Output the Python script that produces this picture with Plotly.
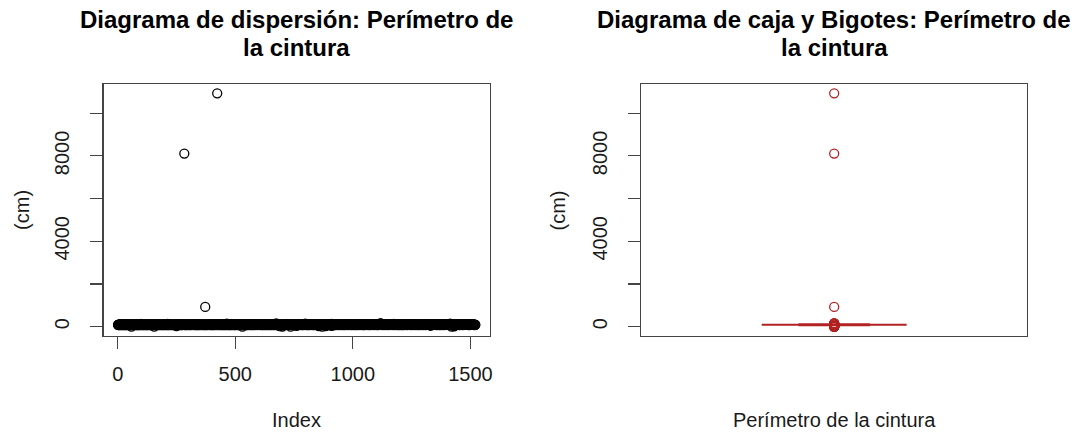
import plotly.graph_objects as go

# Perímetro de la cintura (cm), one value per observation (Index 1..n), read/estimated from the band
cintura_txt = """
88 92 79 101 85 97 74 90 83 110  95 86 78 104 91 82 99 87 76 93  84 107 89 72 96 81 100 93 86 78  91 85 113 80 94 88 77 102 90 84
97 83 89 76 105 92 81 87 99 74  90 86 95 82 108 79 93 1 88 101  85 77 94 90 83 98 72 87 106 91  80 96 84 89 75 103 92 86 79 94
87 99 82 91 78 104 88 95 73 90  84 97 86 80 102 93 77 89 128 85  92 81 96 87 75 100 90 83 98 79  88 94 85 106 91 76 89 97 82 93
86 79 101 92 84 95 78 90 88 103  81 94 87 76 99 91 85 108 80 93  89 74 97 86 92 83 105 79 90 95  84 88 77 102 0.9 91 85 98 82 89
94 87 80 99 91 76 104 88 83 96  90 79 93 85 107 82 89 97 74 92  86 101 81 95 88 78 91 84 100 87  93 80 96 89 75 103 85 92 82 98
88 83 95 79 102 90 86 74 97 91  84 135 87 80 94 89 77 100 92 85  96 81 90 88 105 78 93 86 99 82  91 76 95 87 84 101 89 80 93 97
85 92 78 99 88 94 81 103 90 30  87 96 83 75 100 91 86 79 106 89  93 82 97 88 77 102 84 90 95 80  89 98 85 92 76 104 87 81 94 90
91 84 8110 96 80 93 87 102 78 89  95 83 99 86 74 92 88 107 81 94  90 85 97 79 101 88 93 82 96 87  76 104 89 92 84 98 81 90 95 86
83 97 90 78 105 88 94 81 99 86  92 75 100 89 84 96 80 103 91 87  79 94 88 102 85 93 77 98 90 83  108 86 92 81 95 89 74 101 87 96
88 82 99 91 77 104 86 93 80 97  90 925 84 95 79 101 89 86 92 76  98 87 83 106 90 94 81 100 88 85  93 78 96 89 102 84 91 87 75 99
86 94 80 103 89 92 78 97 85 100  91 83 96 88 74 105 90 87 99 81  93 86 10930 95 79 102 88 84 97 90  82 107 91 76 94 89 85 101 93 80
97 88 83 99 90 76 104 87 92 81  95 89 78 102 86 93 84 100 91 79  88 96 85 142 82 94 90 77 98 87  92 83 101 89 75 96 88 93 80 103
90 85 97 79 106 88 94 82 99 91  86 78 103 92 84 95 80 89 98 87  93 76 101 90 85 97 83 104 88 92  79 96 87 100 82 94 89 77 105 91
84 98 90 81 95 88 103 79 92 1.1  87 94 83 100 76 91 97 86 89 108  82 93 88 78 101 90 85 96 80 99  92 87 74 104 89 95 83 91 98 86
93 80 99 88 85 102 91 77 96 87  90 83 105 94 79 98 86 92 81 100  88 95 84 76 103 90 87 97 82 93  89 101 78 94 86 91 99 84 107 88
81 96 90 87 100 83 93 78 98 92  85 104 88 95 80 91 86 99 76 94  89 82 102 90 97 84 93 87 79 106  91 86 95 81 98 88 74 101 92 85
97 89 83 100 92 78 95 86 103 90  84 98 91 77 94 88 105 82 96 87  93 80 99 89 85 102 91 76 97 88  83 94 90 150 86 92 79 100 87 95
88 92 81 97 86 103 90 25 94 84  99 87 78 101 93 85 96 89 104 8  91 83 98 87 76 100 92 86 95 80  90 106 84 93 88 79 97 91 102 85
94 86 99 82 91 88 104 79 96 90  85 101 87 93 1.5 98 84 92 89 107  81 95 88 100 86 77 97 90 83 103  92 87 96 80 94 89 75 99 91 35
89 97 84 102 90 78 95 87 100 83  93 88 106 81 96 91 85 98 76 94  90 86 103 89 92 80 97 84 101 88  95 79 93 87 99 85 138 91 82 96
87 94 80 99 91 86 103 78 96 89  84 101 92 88 75 97 90 83 105 93  86 99 81 94 89 102 85 92 77 98  90 87 104 83 95 91 79 100 88 93
92 85 98 89 101 82 95 88 76 103  90 94 84 99 28 87 106 91 80 96  88 93 83 100 86 97 79 92 104 1  89 95 85 102 91 78 98 87 94 90
86 99 91 83 32 95 88 104 80 97  92 85 101 89 77 96 90 87 103 94  82 98 91 86 100 79 93 88 131 40  95 84 97 90 81 102 89 93 76 99
91 87 100 84 96 89 78 105 92 86  98 81 94 90 103 85 97 88 75 101  93 86 99 82 95 91 87 104 80 97  89 94 83 100 88 92 79 106 90 85
96 88 83 102 91 77 99 87 94 90  85 108 92 81 97 89 86 101 93 78  95 90 84 103 88 96 82 99 91 87  80 104 93 86 98 89 76 100 92 84
89 97 85 101 92 80 96 88 104 83  94 90 78 99 87 93 86 102 91 82  98 89 75 105 92 87 96 84 100 90  93 81 97 88 103 86 91 79 95 89
84 99 92 87 102 80 95 90 77 104  88 93 85 98 91 83 106 89 96 81  94 87 100 92 79 97 86 103 90 85  99 82 95 89 76 101 93 88 97 84
92 86 103 81 97 90 88 100 84 95  79 93 89 105 86 98 91 83 96 87  102 80 94 90 85 99 92 77 104 88  91 96 83 100 87 94 89 160 82 97
87 93 80 99 90 86 104 83 96 91  88 101 78 94 92 85 97 89 103 81  95 90 84 100 87 93 76 98 91 86  105 83 96 89 92 80 99 88 94 85
98 84 91 102 87 95 80 93 89 100  86 97 83 125 90 92 78 99 88 94  85 101 91 87 96 82 103 89 93 79  97 90 86 104 84 95 88 91 77 100
90 95 82 98 88 103 86 92 79 97  91 84 100 89 94 76 105 87 93 85  99 81 96 90 102 88 84 97 91 78  94 89 101 85 92 98 83 107 90 87
93 86 99 84 96 90 78 102 88 95  82 97 91 87 104 80 94 89 100 85  92 98 83 106 90 87 95 79 101 88  84 97 92 86 103 81 96 89 75 99
88 101 85 94 91 80 97 87 103 90  84 96 89 99 82 93 77 105 91 86  98 88 95 83 100 92 86 104 79 97  90 85 102 93 81 96 88 99 87 94
95 82 98 89 92 86 101 84 97 45  91 88 103 80 95 90 86 99 76 94  87 100 92 83 97 89 106 85 93 81  98 90 87 102 84 96 91 79 100 88
86 97 91 104 83 95 88 80 99 92  85 101 89 94 78 98 90 87 103 82  96 91 84 100 88 93 77 97 89 105  92 86 99 81 95 90 87 102 84 94
91 85 98 88 102 83 96 90 79 100  87 94 89 146 82 97 91 86 99 1.2  93 88 84 103 90 96 80 98 87 92  20 89 101 85 95 91 77 99 88 94
97 84 92 100 88 95 81 103 90 86  98 89 93 78 101 87 96 91 84 105  90 86 99 82 94 88 102 79 97 91  85 100 93 87 96 83 89 104 91 88
94 86 101 90 83 97 88 105 92 80  99 87 93 85 102 91 78 96 89 100  84 95 90 87 103 82 98 91 86 94  89 101 85 97 92 88 76 99 90 93
87
"""
cintura = [float(v) for v in cintura_txt.split()]
indice = list(range(1, len(cintura) + 1))

x_ticks = [0, 500, 1000, 1500]
y_ticks = [0, 2000, 4000, 6000, 8000, 10000]
y_ticktext = ["0", "", "4000", "", "8000", ""]

titulo_izq = ["Diagrama de dispersión: Perímetro de", "la cintura"]
titulo_der = ["Diagrama de caja y Bigotes: Perímetro de", "la cintura"]
etiqueta_y = "(cm)"
etiqueta_x_izq = "Index"
etiqueta_x_der = "Perímetro de la cintura"

W, H = 1081, 434
FONT = "Liberation Sans, Arial, Helvetica, sans-serif"
AXC = "#444444"
BOXC = "#B22222"
TXT = "#1a1a1a"

n = len(indice)
xr = [1 - 0.04 * (n - 1), n + 0.04 * (n - 1)]
ymin, ymax = min(cintura), max(cintura)
span = ymax - ymin
yr = [ymin - 0.04 * span, ymax + 0.04 * span]

def px(x):
    return x / W

def py(y):
    return 1 - y / H

fig = go.Figure()
fig.add_trace(go.Scatter(
    x=indice, y=cintura, mode="markers",
    marker=dict(symbol="circle-open", size=9, color="black", line=dict(width=1.3, color="black")),
    xaxis="x", yaxis="y", showlegend=False, hoverinfo="skip"))
fig.add_trace(go.Box(
    y=cintura, x0=1, width=0.4, whiskerwidth=0.5,
    boxpoints="outliers", jitter=0, pointpos=0,
    line=dict(color=BOXC, width=2), fillcolor="rgba(255,255,255,0)",
    marker=dict(symbol="circle-open", size=9, color=BOXC, line=dict(width=1.3, color=BOXC)),
    xaxis="x2", yaxis="y2", showlegend=False, hoverinfo="skip"))

common_axis = dict(showgrid=False, zeroline=False, showline=True, mirror=True,
                   linecolor=AXC, linewidth=1.3, ticks="outside", ticklen=12,
                   tickwidth=1.2, tickcolor=AXC,
                   tickfont=dict(family=FONT, size=20, color=TXT))
yaxis_cfg = dict(common_axis, range=yr, tickvals=y_ticks, ticktext=y_ticktext,
                 tickangle=-90, ticklabelstandoff=13,
                 domain=[py(336), py(84)])

annotations = []
for cx, lines in ((297.5, titulo_izq), (836.5, titulo_der)):
    for yy, t in zip((19.5, 47.5), lines):
        annotations.append(dict(text="<b>" + t + "</b>", x=px(cx), y=py(yy), xref="paper", yref="paper",
                                xanchor="center", yanchor="middle", showarrow=False,
                                font=dict(family=FONT, size=24, color="black")))
for cx in (22, 560):
    annotations.append(dict(text=etiqueta_y, x=px(cx), y=py(210), xref="paper", yref="paper", textangle=-90,
                            xanchor="center", yanchor="middle", showarrow=False,
                            font=dict(family=FONT, size=20, color=TXT)))
for cx, t in ((297.5, etiqueta_x_izq), (836.5, etiqueta_x_der)):
    annotations.append(dict(text=t, x=px(cx), y=py(420), xref="paper", yref="paper",
                            xanchor="center", yanchor="middle", showarrow=False,
                            font=dict(family=FONT, size=20, color=TXT)))

fig.update_layout(
    width=W, height=H, autosize=False,
    margin=dict(l=0, r=0, t=0, b=0),
    paper_bgcolor="white", plot_bgcolor="white",
    xaxis=dict(common_axis, domain=[px(104), px(491)], range=xr, tickvals=x_ticks,
               anchor="y", ticklabelstandoff=8),
    yaxis=dict(yaxis_cfg, anchor="x"),
    xaxis2=dict(common_axis, domain=[px(643), px(1030)], range=[0.46, 1.54],
                showticklabels=False, ticks="", anchor="y2"),
    yaxis2=dict(yaxis_cfg, anchor="x2"),
    annotations=annotations,
)

# remove the default 8px page margin so the figure fills the window exactly; no modebar
fig.write_html("out.html",
               config={"displayModeBar": False, "staticPlot": True},
               post_script="document.body.style.margin='0';document.body.style.overflow='hidden';")
